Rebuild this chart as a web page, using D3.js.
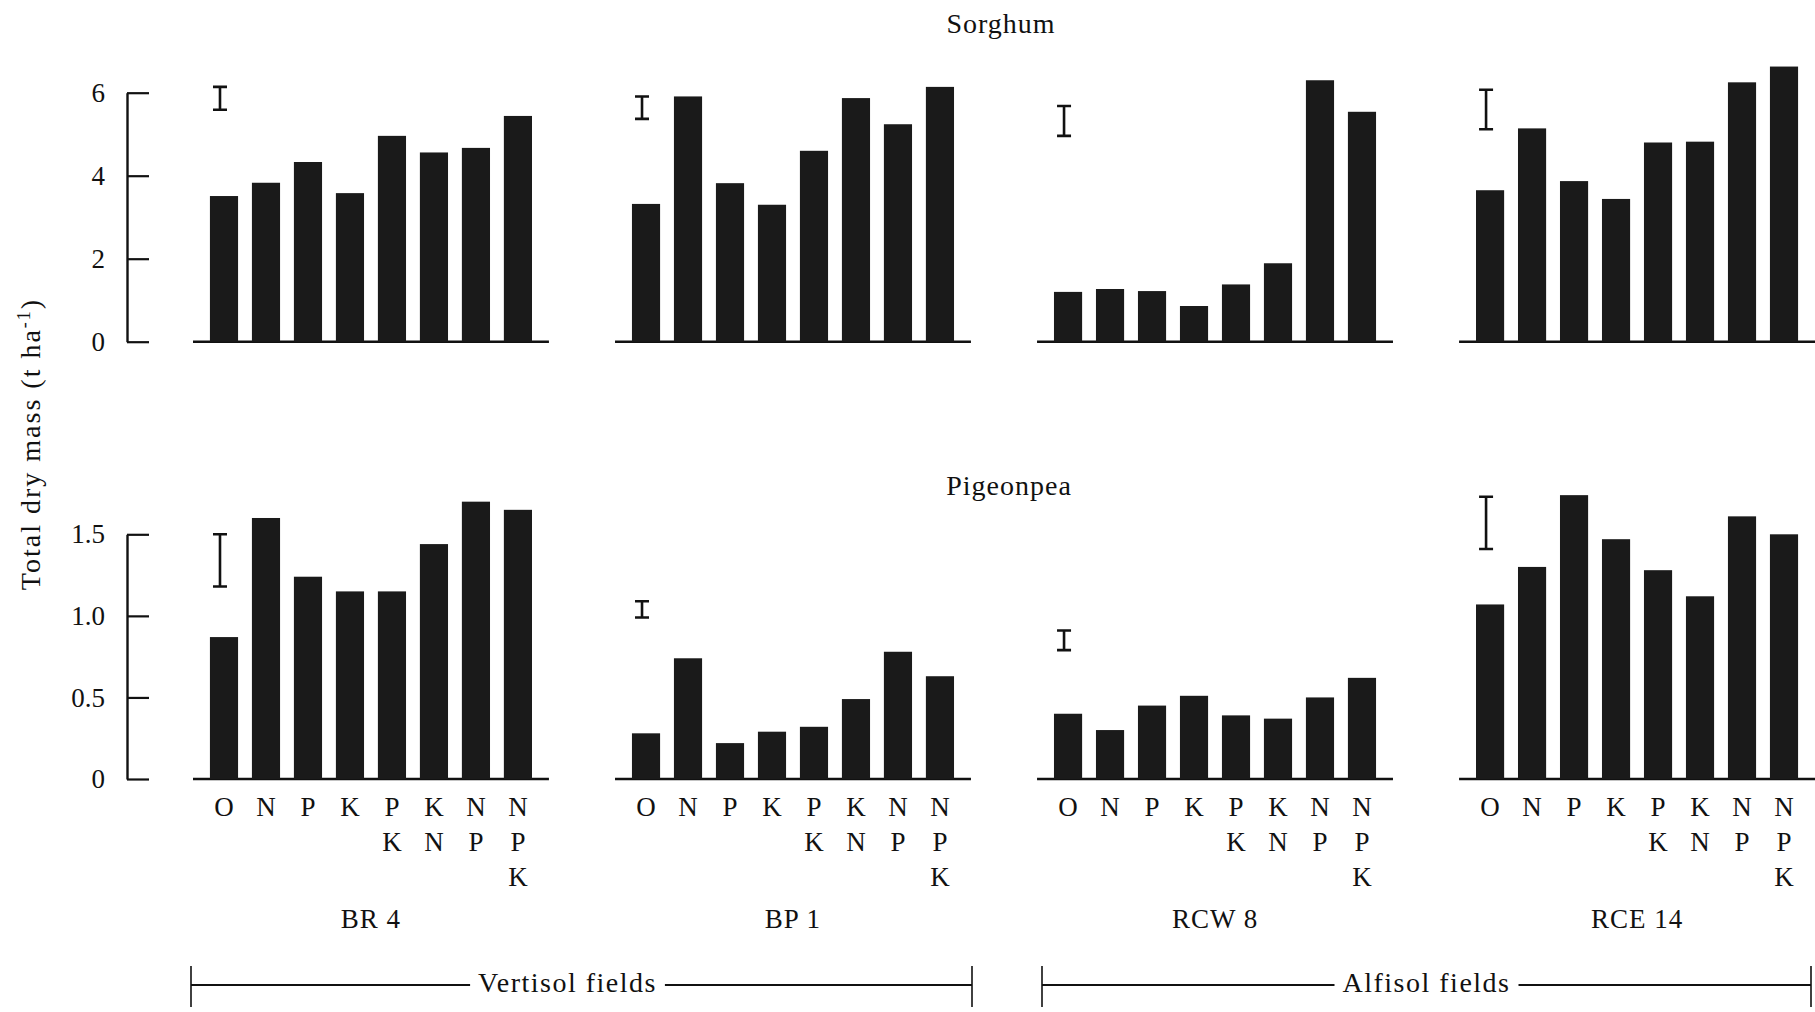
<!DOCTYPE html>
<html>
<head>
<meta charset="utf-8">
<script src="https://cdn.jsdelivr.net/npm/d3@7"></script>
<style>
  html, body { margin: 0; padding: 0; background: #fff; }
  svg { display: block; }
  text { font-family: "Liberation Serif", "DejaVu Serif", serif; fill: #111; }
</style>
</head>
<body>
<svg id="chart" width="1815" height="1012"></svg>
<script>
// Fertiliser treatments and field sites
const treatments = ["O", "N", "P", "K", "PK", "KN", "NP", "NPK"];
const sites = ["BR 4", "BP 1", "RCW 8", "RCE 14"];

// Sorghum total dry mass (t ha-1) per treatment, one array per site
const sorghumBR4   = [3.51, 3.83, 4.33, 3.58, 4.96, 4.56, 4.67, 5.44];
const sorghumBP1   = [3.32, 5.91, 3.82, 3.30, 4.60, 5.87, 5.24, 6.14];
const sorghumRCW8  = [1.20, 1.27, 1.22, 0.86, 1.38, 1.89, 6.30, 5.54];
const sorghumRCE14 = [3.65, 5.14, 3.87, 3.44, 4.80, 4.82, 6.25, 6.63];

// Pigeonpea total dry mass (t ha-1)
const pigeonpeaBR4   = [0.87, 1.60, 1.24, 1.15, 1.15, 1.44, 1.70, 1.65];
const pigeonpeaBP1   = [0.28, 0.74, 0.22, 0.29, 0.32, 0.49, 0.78, 0.63];
const pigeonpeaRCW8  = [0.40, 0.30, 0.45, 0.51, 0.39, 0.37, 0.50, 0.62];
const pigeonpeaRCE14 = [1.07, 1.30, 1.74, 1.47, 1.28, 1.12, 1.61, 1.50];

// LSD bars (lower and upper ends) per site
const sorghumLsdLow    = [5.59, 5.37, 4.96, 5.12];
const sorghumLsdHigh   = [6.14, 5.91, 5.68, 6.07];
const pigeonpeaLsdLow  = [1.18, 0.99, 0.79, 1.41];
const pigeonpeaLsdHigh = [1.50, 1.09, 0.91, 1.73];

// Axis ticks
const sorghumTicks = [0, 2, 4, 6];
const pigeonpeaTicks = [0, 0.5, 1.0, 1.5];

// Soil groups spanning the sites
const soilGroups = ["Vertisol fields", "Alfisol fields"];

const sorghumData = [sorghumBR4, sorghumBP1, sorghumRCW8, sorghumRCE14];
const pigeonpeaData = [pigeonpeaBR4, pigeonpeaBP1, pigeonpeaRCW8, pigeonpeaRCE14];

const svg = d3.select("#chart");
const ink = "#111";
const barFill = "#1a1a1a";

// Horizontal layout: one band per site, one sub-band per treatment
const siteX = d3.scaleBand().domain(sites).range([203, 1805]).paddingInner(0.204);
const treatX = d3.scaleBand().domain(treatments)
  .range([0, siteX.bandwidth()]).paddingInner(0.33).paddingOuter(0.165);

const axisX = 127;

const rows = [
  { name: "Sorghum", data: sorghumData, low: sorghumLsdLow, high: sorghumLsdHigh,
    y: d3.scaleLinear().domain([0, 6]).range([341.7, 92.7]), ticks: sorghumTicks,
    fmt: d => String(d), titleX: 1001, titleY: 33 },
  { name: "Pigeonpea", data: pigeonpeaData, low: pigeonpeaLsdLow, high: pigeonpeaLsdHigh,
    y: d3.scaleLinear().domain([0, 1.5]).range([779, 534.3]), ticks: pigeonpeaTicks,
    fmt: d => d === 0 ? "0" : d.toFixed(1), titleX: 1009, titleY: 495 }
];

rows.forEach(row => {
  const g = svg.append("g");
  const y = row.y;

  // Row title
  g.append("text")
    .attr("x", row.titleX).attr("y", row.titleY)
    .attr("text-anchor", "middle")
    .style("font-size", "28px")
    .style("letter-spacing", "1px")
    .text(row.name);

  // Y axis with inward ticks
  const axis = d3.axisLeft(y).tickValues(row.ticks).tickFormat(row.fmt)
    .tickSizeInner(-22).tickSizeOuter(0).tickPadding(22);
  const ag = g.append("g").attr("transform", `translate(${axisX},0)`).call(axis);
  ag.select(".domain").attr("stroke", ink).attr("stroke-width", 2.4);
  ag.selectAll(".tick line").attr("stroke", ink).attr("stroke-width", 2.2);
  ag.selectAll(".tick text")
    .style("font-family", '"Liberation Serif", serif')
    .style("font-size", "27px").attr("fill", ink);

  sites.forEach((site, si) => {
    const x0 = siteX(site);
    const pg = g.append("g").attr("transform", `translate(${x0},0)`);

    // Baseline
    pg.append("line")
      .attr("x1", -10).attr("x2", siteX.bandwidth() + 10)
      .attr("y1", y(0)).attr("y2", y(0))
      .attr("stroke", ink).attr("stroke-width", 2.4);

    // Bars
    pg.selectAll("rect.bar")
      .data(row.data[si].map((v, i) => ({ t: treatments[i], v })))
      .join("rect")
      .attr("class", "bar")
      .attr("x", d => treatX(d.t))
      .attr("width", treatX.bandwidth())
      .attr("y", d => y(d.v))
      .attr("height", d => y(0) - y(d.v))
      .attr("fill", barFill);

    // LSD bar drawn as an I-beam above the first treatment
    const cx = treatX(treatments[0]) + treatX.bandwidth() / 2 - 4;
    const yTop = y(row.high[si]), yBot = y(row.low[si]);
    const cap = 7;
    pg.append("path")
      .attr("d", `M${cx - cap},${yTop} H${cx + cap} M${cx},${yTop} V${yBot} M${cx - cap},${yBot} H${cx + cap}`)
      .attr("stroke", ink).attr("stroke-width", 2.6).attr("fill", "none");
  });
});

// Treatment labels under the lower row, stacked one letter per line
const letterBaselines = [816, 851, 886];
sites.forEach(site => {
  const x0 = siteX(site);
  treatments.forEach(t => {
    const cx = x0 + treatX(t) + treatX.bandwidth() / 2;
    t.split("").forEach((ch, li) => {
      svg.append("text")
        .attr("x", cx).attr("y", letterBaselines[li])
        .attr("text-anchor", "middle")
        .style("font-size", "27px")
        .text(ch);
    });
  });
  // Site name
  svg.append("text")
    .attr("x", x0 + siteX.bandwidth() / 2).attr("y", 928)
    .attr("text-anchor", "middle")
    .style("font-size", "27px")
    .style("letter-spacing", "1px")
    .text(site);
});

// Soil group brackets
const bracketY = 985;
const bracketExtent = [[191, 972], [1042, 1811]];
const labelShift = [-14, 0];
soilGroups.forEach((name, gi) => {
  const [xa, xb] = bracketExtent[gi];
  const mid = (xa + xb) / 2 + labelShift[gi];
  const label = svg.append("text")
    .attr("x", mid).attr("y", 992)
    .attr("text-anchor", "middle")
    .style("font-size", "28px")
    .style("letter-spacing", "1.5px")
    .text(name);
  const bb = label.node().getBBox();
  const gap = 8;
  [[xa, bb.x - gap], [bb.x + bb.width + gap, xb]].forEach(([a, b]) => {
    svg.append("line").attr("x1", a).attr("x2", b)
      .attr("y1", bracketY).attr("y2", bracketY)
      .attr("stroke", ink).attr("stroke-width", 2);
  });
  [xa, xb].forEach(xe => {
    svg.append("line").attr("x1", xe).attr("x2", xe)
      .attr("y1", bracketY - 19).attr("y2", bracketY + 22)
      .attr("stroke", ink).attr("stroke-width", 1.6);
  });
});

// Shared y-axis title
const yTitle = svg.append("text")
  .attr("transform", "translate(40,444) rotate(-90)")
  .attr("text-anchor", "middle")
  .style("font-size", "28px")
  .style("letter-spacing", "2px");
yTitle.append("tspan").text("Total dry mass (t ha");
yTitle.append("tspan").attr("dy", -10).style("font-size", "18px").text("-1");
yTitle.append("tspan").attr("dy", 10).text(")");
</script>
</body>
</html>
